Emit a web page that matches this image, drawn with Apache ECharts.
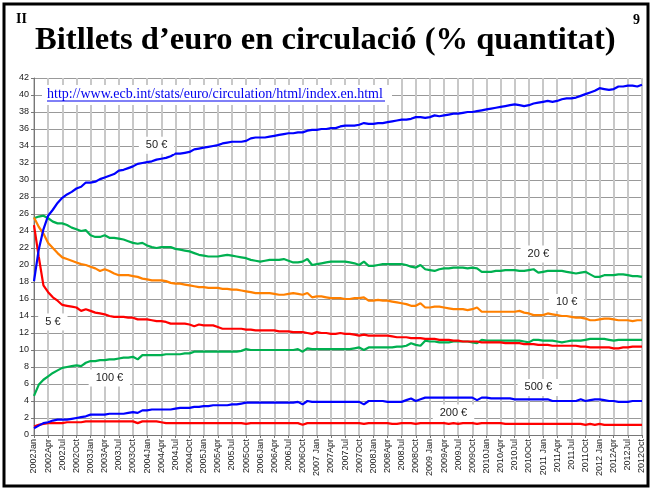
<!DOCTYPE html>
<html>
<head>
<meta charset="utf-8">
<script src="https://cdn.jsdelivr.net/npm/echarts@6/dist/echarts.min.js"></script>
<style>
  html, body { margin: 0; padding: 0; background: #fff; }
  #chart { width: 652px; height: 490px; }
</style>
</head>
<body>
<div id="chart"></div>
<script>
// mesos de 2002Jan a 2012Oct
const years = [2002, 2003, 2004, 2005, 2006, 2007, 2008, 2009, 2010, 2011, 2012]
const monthNames = ['Jan', 'Feb', 'Mar', 'Apr', 'May', 'Jun', 'Jul', 'Aug', 'Sep', 'Oct', 'Nov', 'Dec']
const spacedJan = [2007, 2009, 2011, 2012]
const categories = []
years.forEach(y => {
  monthNames.forEach((m, i) => {
    if (y === 2012 && i > 9) return
    const sep = (i === 0 && spacedJan.indexOf(y) >= 0) ? ' ' : ''
    categories.push(y + sep + m)
  })
})

const e5 = [
  24.7, 21.0, 17.6, 16.8, 16.2, 15.8, 15.3, 15.2, 15.1, 15.0, 14.6, 14.8,
  14.6, 14.4, 14.3, 14.2, 14.0, 13.9, 13.9, 13.9, 13.8, 13.8, 13.6, 13.6,
  13.6, 13.5, 13.4, 13.4, 13.3, 13.1, 13.1, 13.1, 13.1, 13.0, 12.8, 13.0,
  12.9, 12.9, 12.9, 12.7, 12.5, 12.5, 12.5, 12.5, 12.5, 12.4, 12.4, 12.3,
  12.3, 12.3, 12.3, 12.3, 12.2, 12.2, 12.2, 12.1, 12.1, 12.1, 12.0, 11.9,
  12.1, 12.0, 12.0, 11.9, 11.9, 12.0, 11.9, 11.9, 11.8, 11.7, 11.8, 11.7,
  11.7, 11.7, 11.7, 11.7, 11.6, 11.5, 11.5, 11.5, 11.4, 11.4, 11.4, 11.3,
  11.3, 11.3, 11.2, 11.2, 11.2, 11.1, 11.1, 11.0, 11.0, 11.0, 11.0, 10.9,
  10.9, 10.9, 10.9, 10.9, 10.8, 10.8, 10.8, 10.8, 10.7, 10.7, 10.7, 10.6,
  10.6, 10.6, 10.5, 10.5, 10.5, 10.5, 10.5, 10.5, 10.4, 10.4, 10.3, 10.3,
  10.3, 10.3, 10.3, 10.2, 10.2, 10.3, 10.3, 10.4, 10.4, 10.4
]
const e10 = [
  25.6, 24.5, 23.7, 22.6, 22.0, 21.4, 20.9, 20.7, 20.5, 20.3, 20.1, 20.0,
  19.8, 19.6, 19.3, 19.5, 19.3, 19.0, 18.8, 18.8, 18.8, 18.7, 18.6, 18.4,
  18.3, 18.2, 18.2, 18.2, 18.1, 17.9, 17.8, 17.8, 17.7, 17.6, 17.5, 17.4,
  17.4, 17.3, 17.3, 17.3, 17.2, 17.2, 17.1, 17.1, 17.0, 16.9, 16.8, 16.7,
  16.7, 16.7, 16.7, 16.6, 16.5, 16.5, 16.6, 16.7, 16.6, 16.5, 16.7, 16.2,
  16.3, 16.3, 16.2, 16.1, 16.1, 16.1, 16.0, 16.0, 16.1, 16.1, 16.2, 15.8,
  15.8, 15.9, 15.8, 15.8, 15.7, 15.6, 15.5, 15.4, 15.2, 15.2, 15.5, 15.0,
  15.0, 15.1, 15.1, 15.0, 14.9, 14.8, 14.8, 14.8, 14.7, 14.8, 15.0, 14.5,
  14.5, 14.5, 14.5, 14.5, 14.5, 14.5, 14.5, 14.6, 14.4, 14.3, 14.1, 14.1,
  14.1, 14.3, 14.2, 14.1, 14.0, 14.0, 13.9, 13.8, 13.8, 13.7, 13.5, 13.5,
  13.6, 13.7, 13.7, 13.6, 13.5, 13.5, 13.5, 13.4, 13.5, 13.5
]
const e20 = [
  25.5, 25.7, 25.8, 25.5, 25.1, 24.9, 24.9, 24.7, 24.4, 24.2, 24.0, 24.1,
  23.5, 23.3, 23.3, 23.5, 23.2, 23.2, 23.1, 23.0, 22.8, 22.6, 22.5, 22.6,
  22.3, 22.1, 22.0, 22.1, 22.1, 22.1, 21.9, 21.8, 21.7, 21.6, 21.4, 21.2,
  21.1, 21.0, 21.0, 21.0, 21.1, 21.2, 21.1, 21.0, 20.9, 20.8, 20.6, 20.5,
  20.4, 20.5, 20.6, 20.6, 20.6, 20.7, 20.5, 20.3, 20.3, 20.4, 20.7, 20.0,
  20.1, 20.2, 20.3, 20.4, 20.4, 20.4, 20.4, 20.3, 20.2, 20.0, 20.4, 19.9,
  19.9, 20.0, 20.1, 20.1, 20.1, 20.1, 20.1, 20.0, 19.8, 19.7, 20.0, 19.5,
  19.4, 19.3, 19.5, 19.6, 19.6, 19.7, 19.7, 19.7, 19.6, 19.7, 19.6, 19.2,
  19.2, 19.2, 19.3, 19.3, 19.4, 19.4, 19.4, 19.3, 19.3, 19.4, 19.5, 19.1,
  19.2, 19.3, 19.3, 19.3, 19.3, 19.2, 19.1, 19.0, 19.1, 19.2, 18.9, 18.6,
  18.6, 18.8, 18.8, 18.8, 18.9, 18.9, 18.8, 18.7, 18.7, 18.6
]
const e50 = [
  18.1, 21.8, 24.2, 25.8, 26.5, 27.3, 27.9, 28.3, 28.6, 29.0, 29.2, 29.7,
  29.7, 29.8, 30.1, 30.3, 30.5, 30.7, 31.1, 31.2, 31.4, 31.6, 31.9, 32.0,
  32.1, 32.2, 32.4, 32.5, 32.6, 32.8, 33.1, 33.1, 33.2, 33.3, 33.6, 33.7,
  33.8, 33.9, 34.0, 34.1, 34.3, 34.4, 34.5, 34.5, 34.5, 34.6, 34.9, 35.0,
  35.0, 35.0, 35.1, 35.2, 35.3, 35.4, 35.5, 35.5, 35.6, 35.6, 35.8, 35.9,
  35.9, 36.0, 36.0, 36.1, 36.1, 36.3, 36.4, 36.4, 36.4, 36.5, 36.7, 36.6,
  36.6, 36.7, 36.7, 36.8, 36.9, 37.0, 37.1, 37.1, 37.2, 37.4, 37.4, 37.3,
  37.4, 37.6, 37.5, 37.6, 37.7, 37.8, 37.8, 37.9, 38.0, 38.0, 38.1, 38.2,
  38.3, 38.4, 38.5, 38.6, 38.7, 38.8, 38.9, 38.8, 38.7, 38.8, 39.0, 39.1,
  39.2, 39.3, 39.2, 39.3, 39.5, 39.6, 39.6, 39.7, 39.9, 40.1, 40.3, 40.5,
  40.8, 40.7, 40.6, 40.7, 41.0, 41.0, 41.1, 41.1, 41.0, 41.2
]
const e100 = [
  4.6, 5.9, 6.5, 6.9, 7.3, 7.6, 7.9, 8.0, 8.1, 8.2, 8.1, 8.5,
  8.7, 8.7, 8.8, 8.8, 8.9, 8.9, 9.0, 9.1, 9.1, 9.2, 8.9, 9.4,
  9.4, 9.4, 9.4, 9.4, 9.5, 9.5, 9.5, 9.5, 9.6, 9.6, 9.8, 9.8,
  9.8, 9.8, 9.8, 9.8, 9.8, 9.8, 9.8, 9.8, 9.9, 10.1, 10.0, 10.0,
  10.0, 10.0, 10.0, 10.0, 10.0, 10.0, 10.0, 10.0, 10.1, 9.8, 10.2, 10.1,
  10.1, 10.1, 10.1, 10.1, 10.1, 10.1, 10.1, 10.1, 10.2, 10.3, 10.0, 10.3,
  10.3, 10.3, 10.3, 10.3, 10.3, 10.4, 10.4, 10.5, 10.8, 10.6, 10.5, 11.1,
  11.0, 11.0, 10.9, 10.9, 10.9, 11.0, 11.0, 11.0, 11.0, 10.9, 10.8, 11.2,
  11.1, 11.1, 11.1, 11.1, 11.1, 11.1, 11.1, 11.1, 11.0, 10.9, 11.2, 11.2,
  11.1, 11.1, 11.1, 11.0, 10.9, 11.0, 11.1, 11.1, 11.1, 11.2, 11.3, 11.3,
  11.3, 11.3, 11.2, 11.1, 11.2, 11.2, 11.2, 11.2, 11.2, 11.2
]
const e200 = [
  1.0, 1.2, 1.3, 1.4, 1.4, 1.4, 1.4, 1.5, 1.5, 1.5, 1.5, 1.6,
  1.6, 1.6, 1.6, 1.6, 1.6, 1.6, 1.6, 1.6, 1.6, 1.6, 1.4, 1.6,
  1.6, 1.6, 1.6, 1.5, 1.4, 1.4, 1.4, 1.4, 1.4, 1.4, 1.4, 1.4,
  1.4, 1.4, 1.4, 1.4, 1.4, 1.4, 1.4, 1.4, 1.4, 1.3, 1.4, 1.4,
  1.4, 1.4, 1.4, 1.4, 1.4, 1.4, 1.4, 1.4, 1.4, 1.2, 1.4, 1.4,
  1.4, 1.4, 1.4, 1.4, 1.4, 1.4, 1.4, 1.4, 1.4, 1.4, 1.3, 1.4,
  1.4, 1.4, 1.4, 1.4, 1.3, 1.3, 1.4, 1.4, 1.4, 1.3, 1.4, 1.4,
  1.4, 1.4, 1.4, 1.4, 1.3, 1.4, 1.3, 1.4, 1.4, 1.4, 1.3, 1.4,
  1.4, 1.4, 1.4, 1.4, 1.3, 1.3, 1.3, 1.3, 1.3, 1.3, 1.3, 1.3,
  1.3, 1.3, 1.3, 1.3, 1.3, 1.3, 1.3, 1.3, 1.3, 1.2, 1.3, 1.2,
  1.3, 1.2, 1.2, 1.2, 1.2, 1.2, 1.2, 1.2, 1.2, 1.2
]
const e500 = [
  0.8, 1.1, 1.4, 1.5, 1.7, 1.8, 1.8, 1.8, 1.9, 2.0, 2.1, 2.2,
  2.4, 2.4, 2.4, 2.4, 2.5, 2.5, 2.5, 2.5, 2.6, 2.7, 2.6, 2.9,
  2.9, 3.0, 3.0, 3.0, 3.0, 3.0, 3.1, 3.2, 3.2, 3.2, 3.3, 3.3,
  3.4, 3.4, 3.5, 3.5, 3.5, 3.5, 3.6, 3.6, 3.7, 3.8, 3.8, 3.8,
  3.8, 3.8, 3.8, 3.8, 3.8, 3.8, 3.8, 3.8, 3.9, 3.6, 4.0, 3.9,
  3.9, 3.9, 3.9, 3.9, 3.9, 3.9, 3.9, 3.9, 3.9, 3.9, 3.6, 4.0,
  4.0, 4.0, 4.0, 3.9, 3.9, 3.9, 3.9, 4.1, 4.3, 4.0, 4.2, 4.4,
  4.4, 4.4, 4.4, 4.4, 4.4, 4.4, 4.4, 4.4, 4.4, 4.4, 4.1, 4.4,
  4.4, 4.3, 4.3, 4.3, 4.3, 4.3, 4.2, 4.2, 4.2, 4.2, 4.2, 4.2,
  4.2, 4.2, 4.0, 4.0, 4.0, 4.0, 4.0, 4.0, 4.2, 4.0, 4.1, 4.2,
  4.2, 4.1, 4.0, 4.0, 3.9, 3.9, 3.9, 4.0, 4.0, 4.0
]

const chart = echarts.init(document.getElementById('chart'))

// etiqueta blanca sobre la línia
function tag(name, idx, val) {
  return {
    symbol: 'rect',
    symbolSize: 1,
    itemStyle: { color: 'rgba(0,0,0,0)' },
    label: {
      show: true,
      position: 'inside',
      formatter: name,
      color: '#222',
      fontSize: 11,
      fontFamily: 'Liberation Sans',
      backgroundColor: '#fff',
      padding: [3, 7]
    },
    data: [{ coord: [idx, val] }]
  }
}

function line(name, data, color, mark) {
  return {
    name: name,
    type: 'line',
    data: data,
    showSymbol: false,
    symbol: 'none',
    animation: false,
    lineStyle: { color: color, width: 2.2 },
    markPoint: mark
  }
}

const option = {
  backgroundColor: '#fff',
  animation: false,
  grid: { left: 34, right: 10, top: 78, bottom: 55 },
  xAxis: {
    type: 'category',
    data: categories,
    boundaryGap: false,
    axisLine: { lineStyle: { color: '#777', width: 1 } },
    axisTick: { interval: 2, length: 3, lineStyle: { color: '#777' } },
    axisLabel: {
      interval: 2,
      rotate: 90,
      fontSize: 9,
      fontFamily: 'Liberation Sans',
      color: '#222',
      margin: 4
    },
    splitLine: { show: true, interval: 2, lineStyle: { color: '#c8c8c8', width: 2 } }
  },
  yAxis: {
    type: 'value',
    min: 0,
    max: 42,
    interval: 2,
    axisLine: { show: true, lineStyle: { color: '#777' } },
    axisTick: { show: true, length: 3, lineStyle: { color: '#777' } },
    axisLabel: { fontSize: 9, fontFamily: 'Liberation Sans', color: '#222', margin: 5 },
    splitLine: { lineStyle: { color: '#999', width: 1 } }
  },
  series: [
    line('100 €', e100, '#00b050', tag('100 €', 16, 6.7)),
    line('200 €', e200, '#ff0000', tag('200 €', 89, 2.6)),
    line('500 €', e500, '#0000ff', tag('500 €', 107, 5.6)),
    line('20 €', e20, '#00b050', tag('20 €', 107, 21.3)),
    line('10 €', e10, '#ff8000', tag('10 €', 113, 15.6)),
    line('5 €', e5, '#ff0000', tag('5 €', 4, 13.3)),
    line('50 €', e50, '#0000ff', tag('50 €', 26, 34.1))
  ],
  graphic: [
    {
      type: 'rect',
      shape: { x: 4, y: 4, width: 644, height: 482 },
      style: { fill: 'none', stroke: '#000', lineWidth: 3 },
      z: 100
    },
    {
      type: 'text',
      left: 16,
      top: 12,
      style: { text: 'II', font: 'bold 14px "Liberation Serif"', fill: '#000' }
    },
    {
      type: 'text',
      left: 35,
      top: 24,
      style: { text: 'Bitllets d’euro en circulació (% quantitat)', font: 'bold 32.6px "Liberation Serif"', fill: '#000' }
    },
    {
      type: 'text',
      left: 633,
      top: 13,
      style: { text: '9', font: 'bold 14px "Liberation Serif"', fill: '#000' }
    },
    {
      type: 'rect',
      shape: { x: 42, y: 85, width: 350, height: 20 },
      style: { fill: '#fff' },
      z: 50
    },
    {
      type: 'text',
      left: 47,
      top: 87,
      z: 51,
      style: { text: 'http://www.ecb.int/stats/euro/circulation/html/index.en.html', font: '14px "Liberation Serif"', fill: '#0000ee' }
    },
    {
      type: 'line',
      z: 51,
      shape: { x1: 47, y1: 101, x2: 385, y2: 101 },
      style: { stroke: '#0000ee', lineWidth: 1 }
    }
  ]
}

chart.setOption(option)
window.addEventListener('resize', () => { chart.resize() })
</script>
</body>
</html>
